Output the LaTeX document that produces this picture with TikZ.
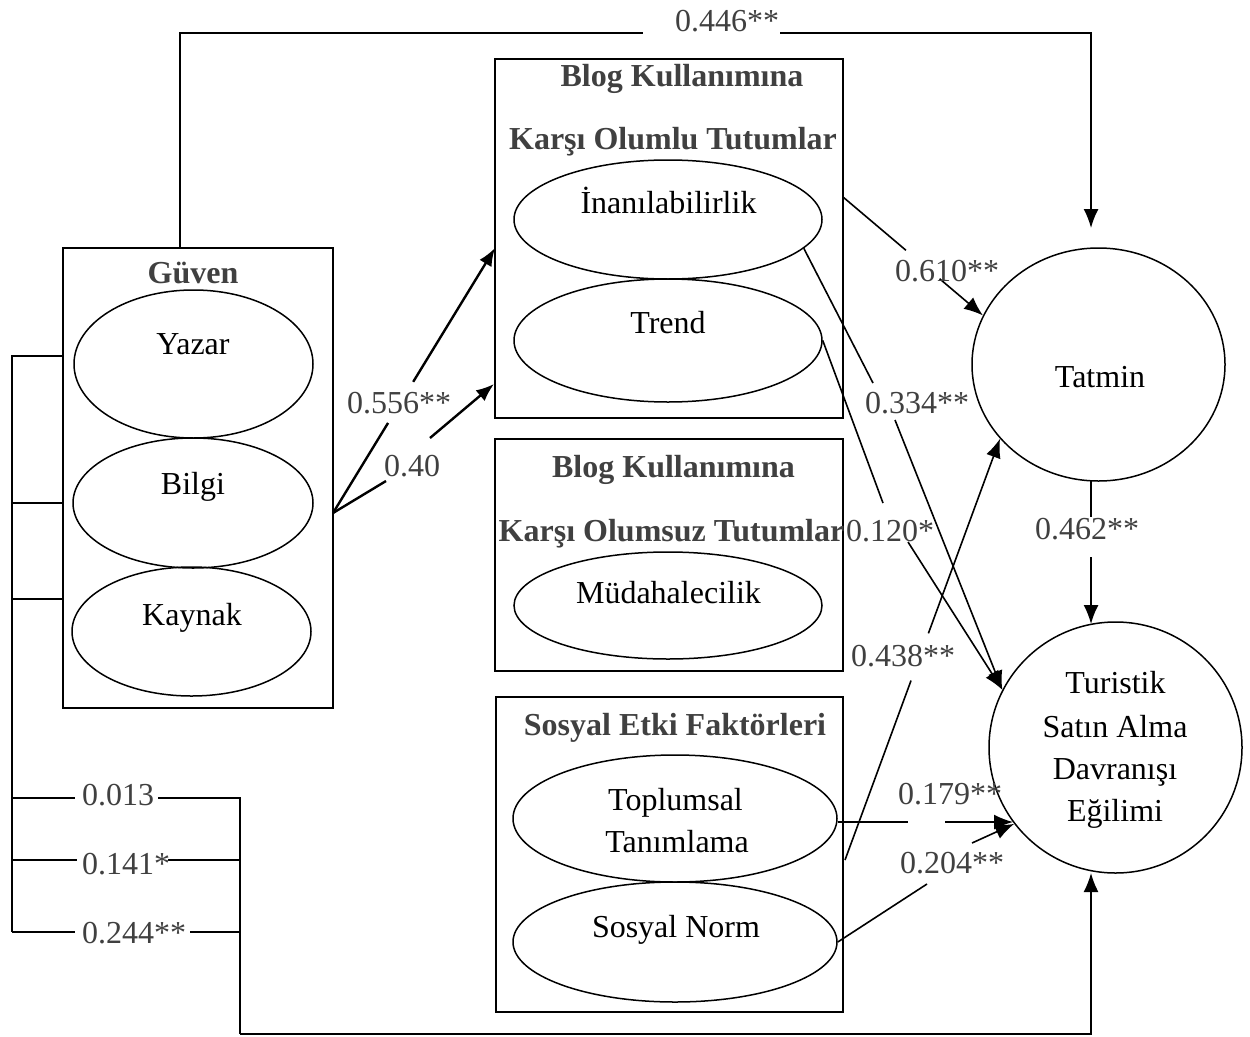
\documentclass[tikz,border=0pt]{standalone}
\usepackage{fontspec}
\setmainfont{Liberation Serif}
\usetikzlibrary{shapes.geometric,arrows.meta,calc}
\definecolor{lbl}{HTML}{404040}
\newcommand\figfont{\fontsize{32}{38}\selectfont}

\begin{document}
\begin{tikzpicture}[x=1pt,y=-1pt,
  box/.style={draw, rectangle, line width=1.7pt, inner sep=0pt},
  oval/.style={draw, ellipse, line width=1.5pt, inner sep=0pt},
  txt/.style={font=\figfont, anchor=base, inner sep=0pt},
  ttl/.style={font=\figfont\bfseries, text=lbl, anchor=base, inner sep=0pt},
  num/.style={font=\figfont, text=lbl, anchor=base, inner sep=0pt},
  conn/.style={line width=1.6pt},
  arr/.style={conn, -{Latex[length=19pt,width=15pt]}},
  thick conn/.style={line width=2.4pt},
  thick arr/.style={thick conn, -{Latex[length=18pt,width=14pt]}},
]
\useasboundingbox (0,0) rectangle (1250,1036);

% ---------- Güven block ----------
\node[box, minimum width=270pt, minimum height=460pt] (guven) at (198,478) {};
\node[ttl] (tguven) at (193,283) {Güven};
\node[oval, minimum width=239pt, minimum height=148pt] (yazar) at (193.5,364) {};
\node[txt] (tyazar) at (193,354) {Yazar};
\node[oval, minimum width=240pt, minimum height=130pt] (bilgi) at (193,503) {};
\node[txt] (tbilgi) at (193,494) {Bilgi};
\node[oval, minimum width=239pt, minimum height=129pt] (kaynak) at (191.5,631.5) {};
\node[txt] (tkaynak) at (192,625) {Kaynak};

% ---------- positive attitudes ----------
\node[box, minimum width=348pt, minimum height=359pt] (pos) at (669,238.5) {};
\node[ttl] (tpos1) at (682,86) {Blog Kullanımına};
\node[ttl] (tpos2) at (673,149) {Karşı Olumlu Tutumlar};
\node[oval, minimum width=308pt, minimum height=119pt] (inan) at (668,219.5) {};
\node[txt] (tinan) at (668.5,213) {İnanılabilirlik};
\node[oval, minimum width=308pt, minimum height=123pt] (trend) at (668,340.5) {};
\node[txt] (ttrend) at (668,333) {Trend};

% ---------- negative attitudes ----------
\node[box, minimum width=348pt, minimum height=232pt] (neg) at (669,555) {};
\node[ttl] (tneg1) at (673.5,477) {Blog Kullanımına};
\node[ttl] (tneg2) at (671.5,541) {Karşı Olumsuz Tutumlar};
\node[oval, minimum width=308pt, minimum height=107pt] (mudah) at (668,605.5) {};
\node[txt] (tmudah) at (668.5,603) {Müdahalecilik};

% ---------- social influence ----------
\node[box, minimum width=347pt, minimum height=315pt] (soc) at (669.5,854.5) {};
\node[ttl] (tsoc) at (675,735) {Sosyal Etki Faktörleri};
\node[oval, minimum width=324pt, minimum height=127pt] (toplum) at (675,818.5) {};
\node[txt] (ttoplum1) at (675.5,810) {Toplumsal};
\node[txt] (ttoplum2) at (677,852) {Tanımlama};
\node[oval, minimum width=324pt, minimum height=120pt] (norm) at (675,942) {};
\node[txt] (tnorm) at (676,937) {Sosyal Norm};

% ---------- outcomes ----------
\node[oval, minimum width=253pt, minimum height=233pt] (tatmin) at (1098.5,364.5) {};
\node[txt] (ttatmin) at (1100,387) {Tatmin};
\node[oval, minimum width=253pt, minimum height=251pt] (turist) at (1115.5,747.5) {};
\node[txt] (tturist1) at (1115.5,693) {Turistik};
\node[txt] (tturist2) at (1115,737) {Satın Alma};
\node[txt] (tturist3) at (1115,779) {Davranışı};
\node[txt] (tturist4) at (1115,821) {Eğilimi};

% ---------- connector end points ----------
\coordinate (gtop) at (180,248);
\coordinate (g446a) at (643,33);
\coordinate (g446b) at (780,33);
\coordinate (tattop) at (1091,228);
\coordinate (gv) at (333,513);
\coordinate (p556) at (495,248);
\coordinate (p40) at (494,384);
\coordinate (b40a) at (386,481);
\coordinate (b40b) at (430,438);
\coordinate (i610) at (843,197);
\coordinate (b334a) at (873,383);
\coordinate (b334b) at (895,420);
\coordinate (b120a) at (883,503);
\coordinate (b120b) at (908,542);
\coordinate (s438) at (845,860);
\coordinate (s179a) at (908,822);
\coordinate (s179b) at (945,822);
\coordinate (t179) at (1013,822);
\coordinate (n204a) at (927,884);
\coordinate (n204b) at (972,843);
\coordinate (v462a) at (1091,481);
\coordinate (v462b) at (1091,517);
\coordinate (v462c) at (1091,557);
\coordinate (v462d) at (1091,624);
\coordinate (k1) at (12,356);
\coordinate (k1g) at (63,356);
\coordinate (k2) at (12,503);
\coordinate (k2g) at (63,503);
\coordinate (k3) at (12,599);
\coordinate (k3g) at (63,599);
\coordinate (r1) at (12,798);
\coordinate (r1a) at (75,798);
\coordinate (r1b) at (158,798);
\coordinate (r1c) at (240,798);
\coordinate (r2) at (12,860);
\coordinate (r2a) at (77,860);
\coordinate (r2b) at (168,860);
\coordinate (r2c) at (240,860);
\coordinate (r3) at (12,932);
\coordinate (r3a) at (75,932);
\coordinate (r3b) at (190,932);
\coordinate (r3c) at (240,932);
\coordinate (bq) at (240,1034);
\coordinate (tbot) at (1091,873);

% ---------- connectors ----------
% Güven -> Tatmin
\draw[conn] (gtop) |- (g446a);
\draw[arr] (g446b) -| (tattop);
% Güven -> positive attitudes
\draw[thick conn] (gv) -- ($(gv)!0.34!(p556)$);
\draw[thick arr] ($(gv)!0.495!(p556)$) -- (p556);
\draw[thick conn] (gv) -- (b40a);
\draw[thick arr] (b40b) -- (p40);
% positive attitudes -> Tatmin
\draw[conn] (i610) -- ($(i610)!0.45!(tatmin.157)$);
\draw[arr] ($(i610)!0.69!(tatmin.157)$) -- (tatmin.157);
% İnanılabilirlik -> purchase intention
\draw[conn] (inan.-12) -- (b334a);
\draw[arr] (b334b) -- (turist.153);
% Trend -> purchase intention
\draw[conn] (trend.east) -- (b120a);
\draw[arr] (b120b) -- (turist.153);
% Toplumsal Tanımlama -> Tatmin
\draw[conn] (s438) -- ($(s438)!0.426!(tatmin.217)$);
\draw[arr] ($(s438)!0.538!(tatmin.217)$) -- (tatmin.217);
% Toplumsal Tanımlama -> purchase intention
\draw[conn] (toplum.east |- s179a) -- (s179a);
\draw[arr] (s179b) -- (t179);
% Sosyal Norm -> purchase intention
\draw[conn] (norm.east) -- (n204a);
\draw[arr] (n204b) -- (turist.217);
% Tatmin -> purchase intention
\draw[conn] (v462a) -- (v462b);
\draw[arr] (v462c) -- (v462d);
% bracket of the Güven dimensions
\draw[conn] (k1g) -- (k1) -- (r3);
\draw[conn] (k2) -- (k2g);
\draw[conn] (k3) -- (k3g);
\draw[conn] (r1) -- (r1a);
\draw[conn] (r2) -- (r2a);
\draw[conn] (r3) -- (r3a);
\draw[conn] (r1b) -- (r1c) -- (bq);
\draw[conn] (r2b) -- (r2c);
\draw[conn] (r3b) -- (r3c);
\draw[arr] (bq) -| (tbot);

% ---------- coefficients ----------
\node[num] (l446) at (727,31) {0.446**};
\node[num] (l556) at (399,413) {0.556**};
\node[num] (l40) at (412,476) {0.40};
\node[num] (l610) at (947,281) {0.610**};
\node[num] (l334) at (917,413) {0.334**};
\node[num] (l120) at (890,541) {0.120*};
\node[num] (l438) at (903,666) {0.438**};
\node[num] (l462) at (1087,539) {0.462**};
\node[num] (l179) at (950,804) {0.179**};
\node[num] (l204) at (952,873) {0.204**};
\node[num] (l013) at (118,805) {0.013};
\node[num] (l141) at (126,874) {0.141*};
\node[num] (l244) at (134,943) {0.244**};
\end{tikzpicture}
\end{document}
